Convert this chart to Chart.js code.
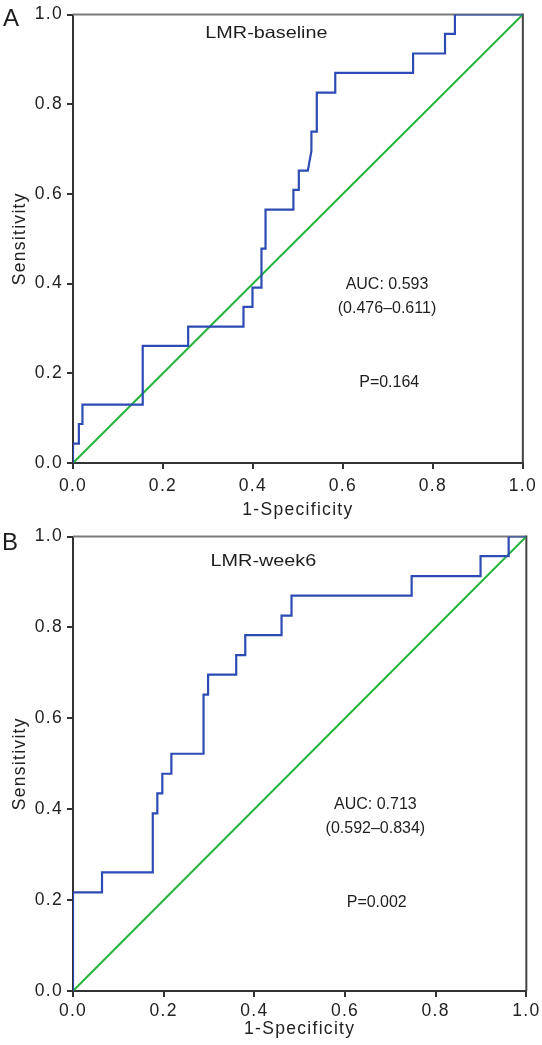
<!DOCTYPE html>
<html>
<head>
<meta charset="utf-8">
<script src="https://cdn.jsdelivr.net/npm/chart.js@4.4.1/dist/chart.umd.min.js"></script>
<style>
  html, body { margin: 0; padding: 0; background: #fff; }
  canvas { display: block; }
</style>
</head>
<body>
<canvas id="rocA" width="542" height="522"></canvas>
<canvas id="rocB" width="542" height="523"></canvas>
<script>
// ROC points (1-specificity, sensitivity)
const fprA = [0, 0, 0.013, 0.013, 0.021, 0.021, 0.155, 0.155, 0.256, 0.256, 0.379, 0.379, 0.399, 0.399,
  0.419, 0.419, 0.428, 0.428, 0.490, 0.490, 0.502, 0.502, 0.522, 0.530, 0.530, 0.542, 0.542,
  0.583, 0.583, 0.756, 0.756, 0.827, 0.827, 0.849, 0.849, 1];
const tprA = [0, 0.043, 0.043, 0.087, 0.087, 0.130, 0.130, 0.261, 0.261, 0.304, 0.304, 0.348, 0.348, 0.391,
  0.391, 0.478, 0.478, 0.565, 0.565, 0.609, 0.609, 0.652, 0.652, 0.696, 0.739, 0.739, 0.826,
  0.826, 0.870, 0.870, 0.913, 0.913, 0.957, 0.957, 1, 1];

const fprB = [0, 0, 0.064, 0.064, 0.176, 0.176, 0.186, 0.186, 0.197, 0.197, 0.217, 0.217, 0.288, 0.288,
  0.298, 0.298, 0.360, 0.360, 0.380, 0.380, 0.460, 0.460, 0.482, 0.482, 0.747, 0.747,
  0.899, 0.899, 0.961, 0.961, 1];
const tprB = [0, 0.217, 0.217, 0.261, 0.261, 0.391, 0.391, 0.435, 0.435, 0.478, 0.478, 0.522, 0.522, 0.652,
  0.652, 0.696, 0.696, 0.739, 0.739, 0.783, 0.783, 0.826, 0.826, 0.870, 0.870, 0.913,
  0.913, 0.957, 0.957, 1, 1];

// reference line
const refX = [0, 1];
const refY = [0, 1];

const tickValues = [0, 0.2, 0.4, 0.6, 0.8, 1.0];
const panelLetters = ['A', 'B'];
const curveTitles = ['LMR-baseline', 'LMR-week6'];
const aucLabels = ['AUC: 0.593', 'AUC: 0.713'];
const ciLabels = ['(0.476–0.611)', '(0.592–0.834)'];
const pLabels = ['P=0.164', 'P=0.002'];

const FONT = 'Liberation Sans, Arial, Helvetica, sans-serif';
const BLUE = '#2d4bb4';
const GREEN = '#22b43a';
const AXIS = '#333';

const toPoints = (xs, ys) => xs.map((v, i) => ({ x: v, y: ys[i] }));

// SPSS text looks a bit stretched, emulate it with letter spacing
const spacingPlugin = {
  id: 'spacing',
  beforeDraw(chart) { chart.ctx.letterSpacing = '1.3px'; }
};

// top and right frame lines
const framePlugin = {
  id: 'frame',
  beforeDatasetsDraw(chart) {
    const { ctx, chartArea: a } = chart;
    ctx.save();
    ctx.lineWidth = 2;
    ctx.strokeStyle = '#7a7a7a';
    ctx.beginPath();
    ctx.moveTo(a.left, a.top);
    ctx.lineTo(a.right, a.top);
    ctx.stroke();
    ctx.strokeStyle = '#444';
    ctx.beginPath();
    ctx.moveTo(a.right, a.top - 1);
    ctx.lineTo(a.right, a.bottom);
    ctx.stroke();
    ctx.restore();
  }
};

const textPlugin = {
  id: 'rocText',
  afterDraw(chart, args, o) {
    const { ctx, scales: { x, y } } = chart;
    ctx.save();
    ctx.letterSpacing = '0px';
    ctx.fillStyle = '#1e1e1e';
    ctx.textAlign = 'center';
    ctx.textBaseline = 'middle';

    ctx.font = '24px ' + FONT;
    ctx.fillText(o.letter, o.letterAt[0], o.letterAt[1]);

    // curve title, stretched horizontally like the original
    const tx = x.getPixelForValue(o.titleAt[0]);
    const ty = y.getPixelForValue(o.titleAt[1]);
    ctx.save();
    ctx.translate(tx, ty);
    ctx.scale(1.2, 1);
    ctx.font = '16.5px ' + FONT;
    ctx.fillText(o.title, 0, 0);
    ctx.restore();

    ctx.font = '16px ' + FONT;
    ctx.fillText(o.auc, x.getPixelForValue(o.aucAt[0]), y.getPixelForValue(o.aucAt[1]));
    ctx.fillText(o.ci, x.getPixelForValue(o.aucAt[0]), y.getPixelForValue(o.aucAt[2]));
    ctx.fillText(o.p, x.getPixelForValue(o.pAt[0]), y.getPixelForValue(o.pAt[1]));
    ctx.restore();
  }
};

function makeRoc(id, i, fpr, tpr, geo) {
  const ctx = document.getElementById(id).getContext('2d');
  return new Chart(ctx, {
    type: 'scatter',
    data: {
      datasets: [{
        data: toPoints(fpr, tpr),
        showLine: true,
        borderColor: BLUE,
        borderWidth: 2.2,
        pointRadius: 0,
        tension: 0
      }, {
        data: toPoints(refX, refY),
        showLine: true,
        borderColor: GREEN,
        borderWidth: 2,
        pointRadius: 0
      }]
    },
    options: {
      responsive: false,
      animation: false,
      events: [],
      layout: { padding: { left: 0, top: geo.top, right: geo.right, bottom: 0 } },
      plugins: {
        legend: { display: false },
        tooltip: { enabled: false },
        rocText: {
          letter: panelLetters[i],
          letterAt: geo.letterAt,
          title: curveTitles[i],
          titleAt: geo.titleAt,
          auc: aucLabels[i],
          ci: ciLabels[i],
          aucAt: geo.aucAt,
          p: pLabels[i],
          pAt: geo.pAt
        }
      },
      scales: {
        x: {
          type: 'linear',
          min: 0,
          max: 1,
          afterBuildTicks: s => { s.ticks = tickValues.map(v => ({ value: v })); },
          afterFit: s => { s.height = geo.xHeight; },
          ticks: {
            callback: v => v.toFixed(1),
            color: '#222',
            padding: geo.xPad,
            maxRotation: 0,
            font: { family: FONT, size: 17.5 }
          },
          grid: { display: true, drawOnChartArea: false, drawTicks: true, tickLength: 6, color: AXIS, lineWidth: 2 },
          border: { display: true, color: AXIS, width: 2 },
          title: {
            display: true,
            text: '1-Specificity',
            color: '#222',
            padding: { top: 0, bottom: geo.titlePad },
            font: { family: FONT, size: 17.5 }
          }
        },
        y: {
          type: 'linear',
          min: 0,
          max: 1,
          afterBuildTicks: s => { s.ticks = tickValues.map(v => ({ value: v })); },
          afterFit: s => { s.width = 73; },
          ticks: {
            callback: v => v.toFixed(1),
            color: '#222',
            padding: 4,
            font: { family: FONT, size: 17.5 }
          },
          grid: { display: true, drawOnChartArea: false, drawTicks: true, tickLength: 6, color: AXIS, lineWidth: 2 },
          border: { display: true, color: AXIS, width: 2 },
          title: {
            display: true,
            text: 'Sensitivity',
            color: '#222',
            padding: { top: 10, bottom: 0 },
            font: { family: FONT, size: 17.5 }
          }
        }
      }
    },
    plugins: [spacingPlugin, framePlugin, textPlugin]
  });
}

makeRoc('rocA', 0, fprA, tprA, {
  top: 11, right: 15, xHeight: 59, xPad: 7, titlePad: 1.5,
  letterAt: [11, 19], titleAt: [0.43, 0.958], aucAt: [0.698, 0.398, 0.345], pAt: [0.703, 0.179]
});
makeRoc('rocB', 1, fprB, tprB, {
  top: 13, right: 12, xHeight: 54, xPad: 3.5, titlePad: 5,
  letterAt: [10, 21], titleAt: [0.42, 0.945], aucAt: [0.667, 0.41, 0.357], pAt: [0.670, 0.195]
});
</script>
</body>
</html>
